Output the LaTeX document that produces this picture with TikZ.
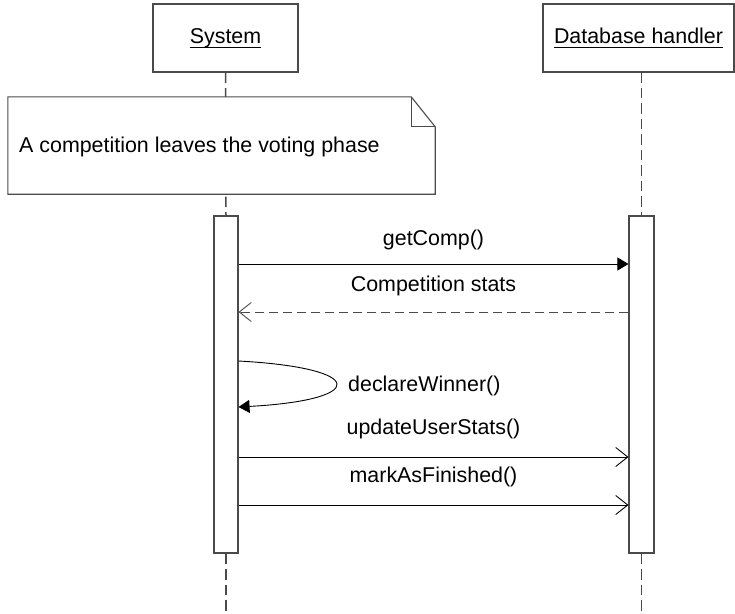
\documentclass[tikz,border=0pt]{standalone}
\usepackage{fontspec}
\setmainfont{Liberation Sans}
\usetikzlibrary{arrows.meta}
\definecolor{frame}{HTML}{4A4A4A}
% object names are underlined a little below the baseline
\newcommand\objname[1]{\setbox0\hbox{#1}\rlap{\rule[-4.5pt]{\wd0}{1pt}}\box0}
\begin{document}
\begin{tikzpicture}[x=1pt,y=-1pt,
  every node/.style={font=\fontsize{21.4}{25}\selectfont, inner sep=0pt},
  object/.style={draw=frame, line width=1.1pt, fill=white, minimum height=68pt},
  activation/.style={draw=frame, line width=1.1pt, fill=white, minimum height=337pt},
  lifeline/.style={draw=frame, line width=1.5pt, dash pattern=on 10.5pt off 5pt},
  notebox/.style={draw=frame, line width=1.1pt, fill=white, line join=miter},
  call/.style={draw=black, line width=0.9pt, -{Triangle[length=11pt,width=13pt]}},
  async/.style={draw=black, line width=0.9pt, -{Straight Barb[length=12pt,width=19pt]}},
  reply/.style={draw=frame, line width=0.9pt, dash pattern=on 9pt off 5pt,
    -{Straight Barb[length=12pt,width=19pt]}},
  msglabel/.style={anchor=base}
]
\useasboundingbox (0,0) rectangle (735,613);

% participants
\node[object, minimum width=145pt] (sys) at (225.5,38) {\objname{System}};
\node[object, minimum width=191pt] (db) at (638.5,38) {\objname{Database handler}};

% activation bars
\node[activation, minimum width=24pt] (sysact) at (226,384.5) {};
\node[activation, minimum width=25pt] (dbact) at (641.5,384.5) {};

% lifelines
\coordinate (sysend) at (226,613);
\coordinate (dbtop) at (641.5,72);
\coordinate (dbend) at (641.5,613);
\draw[lifeline] (sys.south) -- (sysact.north);
\draw[lifeline] (sysact.south) -- (sysend);
\draw[lifeline] (dbtop) -- (dbact.north);
\draw[lifeline] (dbact.south) -- (dbend);

% note with folded corner
\node[minimum width=427pt, minimum height=97pt] (note) at (221.5,145.5) {};
\draw[notebox] (note.north west) -- ([xshift=-24pt]note.north east)
  -- ([yshift=-30pt]note.north east) -- (note.south east)
  -- (note.south west) -- cycle;
\draw[notebox, fill=none] ([xshift=-24pt]note.north east) -- ++(0,30) -- ++(24,0);
\node[anchor=base west] (notetext) at (19,152) {A competition leaves the voting phase};

% redraw the activation bars over the lifeline ends
\node[activation, minimum width=24pt] at (sysact) {};
\node[activation, minimum width=25pt] at (dbact) {};

% message end points
\coordinate (m1s) at (sysact.east |- 0,264);
\coordinate (m1e) at (dbact.west |- 0,264);
\coordinate (m2s) at (dbact.west |- 0,312);
\coordinate (m2e) at (sysact.east |- 0,312);
\coordinate (s1) at (sysact.east |- 0,361);
\coordinate (s2) at (sysact.east |- 0,407);
\coordinate (m4s) at (sysact.east |- 0,457);
\coordinate (m4e) at (dbact.west |- 0,457);
\coordinate (m5s) at (sysact.east |- 0,505);
\coordinate (m5e) at (dbact.west |- 0,505);

% messages
\draw[call] (m1s) -- node[msglabel, yshift=19pt] (l1) {getComp()} (m1e);
\draw[reply] (m2s) -- node[msglabel, yshift=21pt] (l2) {Competition stats} (m2e);
\draw[call] (s1) .. controls (368,368) and (368,400) .. (s2);
\node[anchor=base west] (l3) at (348,391) {declareWinner()};
\draw[async] (m4s) -- node[msglabel, yshift=23pt] (l4) {updateUserStats()} (m4e);
\draw[async] (m5s) -- node[msglabel, yshift=23pt] (l5) {markAsFinished()} (m5e);
\end{tikzpicture}
\end{document}
